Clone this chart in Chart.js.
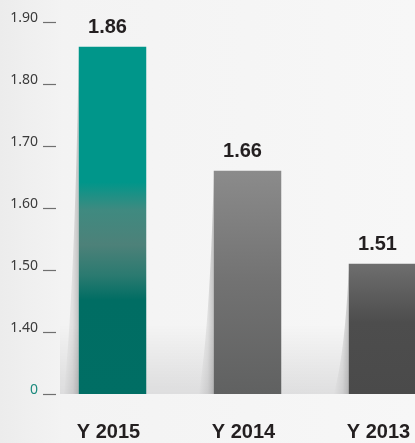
<!DOCTYPE html>
<html>
<head>
<meta charset="utf-8">
<script src="https://cdn.jsdelivr.net/npm/chart.js@4.4.1/dist/chart.umd.min.js"></script>
<style>
    html, body { margin: 0; padding: 0; overflow: hidden; }
    body {
        width: 415px; height: 443px;
        background: linear-gradient(90deg, #ececec 0%, #f3f3f3 15%, #f5f5f5 60%, #f7f7f7 100%);
    }
    .wrap { position: relative; width: 450px; height: 443px; }
</style>
</head>
<body>
<div class="wrap"><canvas id="chart"></canvas></div>
<script>
// ===== Data =====
const categories = ['Y 2015', 'Y 2014', 'Y 2013'];
const values = [1.86, 1.66, 1.51];
const yTickValues = [1.3, 1.4, 1.5, 1.6, 1.7, 1.8, 1.9];
const yTickLabels = ['0', '1.40', '1.50', '1.60', '1.70', '1.80', '1.90'];

// gradient stops per bar (top -> bottom)
const barStops = [
    [[0, '#00968a'], [0.39, '#00968a'], [0.47, '#3f8a80'], [0.57, '#4d8179'], [0.66, '#2a7a70'], [0.73, '#006d63'], [1, '#006e64']],
    [[0, '#8b8b8b'], [0.5, '#727272'], [1, '#606161']],
    [[0, '#6e6e6e'], [0.45, '#4d4d4d'], [1, '#4a4a4a']]
];

function barFill(ctx) {
    const chart = ctx.chart;
    const area = chart.chartArea;
    if (!area) return '#888';
    const y = chart.scales.y;
    const top = y.getPixelForValue(ctx.raw);
    const g = chart.ctx.createLinearGradient(0, top, 0, area.bottom);
    barStops[ctx.dataIndex].forEach(s => g.addColorStop(s[0], s[1]));
    return g;
}

// floor shade + bar side shadows
const decorPlugin = {
    id: 'decor',
    beforeDatasetsDraw(chart) {
        const { ctx, chartArea } = chart;
        const b = chartArea.bottom;
        ctx.save();
        const fg = ctx.createLinearGradient(0, b - 70, 0, b);
        fg.addColorStop(0, 'rgba(0,0,0,0)');
        fg.addColorStop(1, 'rgba(0,0,10,0.09)');
        ctx.fillStyle = fg;
        ctx.fillRect(60, b - 70, chart.width - 60, 70);

        chart.getDatasetMeta(0).data.forEach(bar => {
            const xl = bar.x - bar.width / 2;
            const top = bar.y;
            const w = 15;
            const sg = ctx.createLinearGradient(xl - w, 0, xl, 0);
            sg.addColorStop(0, 'rgba(0,0,0,0)');
            sg.addColorStop(0.6, 'rgba(0,0,0,0.08)');
            sg.addColorStop(1, 'rgba(0,0,0,0.2)');
            ctx.fillStyle = sg;
            ctx.beginPath();
            ctx.moveTo(xl, top + 6);
            ctx.quadraticCurveTo(xl - 4, b - (b - top) * 0.3, xl - w, b);
            ctx.lineTo(xl, b);
            ctx.closePath();
            ctx.fill();
        });
        ctx.restore();
    },
    afterDraw(chart) {
        const { ctx } = chart;
        const y = chart.scales.y;
        ctx.save();
        // y ticks: dash + label
        yTickValues.forEach((v, i) => {
            const py = Math.round(y.getPixelForValue(v)) + 0.5;
            ctx.strokeStyle = '#6f6f6f';
            ctx.lineWidth = 1.2;
            ctx.beginPath();
            ctx.moveTo(43, py);
            ctx.lineTo(56, py);
            ctx.stroke();
            ctx.font = "14px 'Noto Sans'";
            ctx.fillStyle = i === 0 ? '#1b8a7d' : '#3a3a3a';
            ctx.textAlign = 'right';
            ctx.textBaseline = 'middle';
            ctx.fillText(yTickLabels[i], 38, py - 4);
        });
        // value labels
        ctx.font = "bold 20px 'Liberation Sans', Arial, sans-serif";
        ctx.fillStyle = '#231f20';
        ctx.textAlign = 'center';
        ctx.textBaseline = 'middle';
        chart.getDatasetMeta(0).data.forEach((bar, i) => {
            ctx.fillText(values[i].toFixed(2), bar.x - 5, bar.y - 19);
        });
        ctx.restore();
    }
};

new Chart(document.getElementById('chart'), {
    type: 'bar',
    data: {
        labels: categories,
        datasets: [{
            data: values,
            backgroundColor: barFill,
            borderWidth: 0,
            barPercentage: 0.5,
            categoryPercentage: 1
        }]
    },
    options: {
        responsive: true,
        maintainAspectRatio: false,
        animation: false,
        layout: { padding: { top: 22, right: 0, bottom: 0, left: 0 } },
        plugins: {
            legend: { display: false },
            tooltip: { enabled: false }
        },
        scales: {
            x: {
                grid: { display: false },
                border: { display: false },
                ticks: {
                    padding: 18,
                    labelOffset: -4,
                    color: '#231f20',
                    font: { family: "'Liberation Sans', Arial, sans-serif", size: 20, weight: 'bold' }
                },
                afterFit: (s) => { s.height = 49; }
            },
            y: {
                min: 1.3,
                max: 1.9,
                grid: { display: false },
                border: { display: false },
                ticks: { display: false },
                afterBuildTicks: (s) => { s.ticks = yTickValues.map(v => ({ value: v })); },
                afterFit: (s) => { s.width = 45; }
            }
        }
    },
    plugins: [decorPlugin]
});
</script>
</body>
</html>
